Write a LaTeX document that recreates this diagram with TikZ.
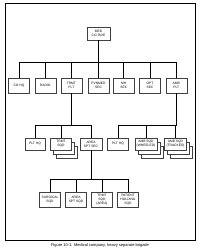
\documentclass[tikz,border=0pt]{standalone}
\usepackage{fontspec}
\setmainfont{Liberation Sans}
\usetikzlibrary{
  positioning,
  calc,
  shadows,
}
\tikzset{
  unitbox/.style={
    rectangle, draw=black!75, fill=white, line width=0.4pt,
    minimum width=21pt, minimum height=15pt, inner sep=0.5pt,
    align=center, font=\fontsize{3.3}{3.9}\selectfont
  },
  stackbox/.style={
    unitbox,
    double copy shadow={shadow xshift=3pt, shadow yshift=-4pt,
                        draw=black!75, fill=white, line width=0.4pt}
  },
  orgline/.style={line width=0.7pt, black},
  framebox/.style={line width=0.9pt, black},
}

\begin{document}
\begin{tikzpicture}[x=1pt, y=-1pt]

  \useasboundingbox (0,0) rectangle (201,251);

  % ── Frame ──
  \draw[framebox] (5,3) rectangle (195,240);

  % ── Company ──
  \node[unitbox, minimum width=23pt, minimum height=13pt] (medco) at (98.5,33.5) {MED\\CO, BDE};

  % ── Sections ──
  \node[unitbox] (cohq)  at (19,85.5)    {CO HQ};
  \node[unitbox] (radio) at (45.2,85.5)  {RADIO};
  \node[unitbox] (trmt)  at (71.4,85.5)  {TRMT\\PLT};
  \node[unitbox] (pvnt)  at (98.5,85.5)  {PVNMED\\SEC};
  \node[unitbox] (mhsec) at (123.8,85.5) {MH\\SEC};
  \node[unitbox] (optec) at (150,85.5)   {OPT\\SEC};
  \node[unitbox] (ambpl) at (176.2,85.5) {AMB\\PLT};

  % ── Treatment platoon ──
  \node[unitbox, minimum width=20pt, minimum height=12pt] (tplthq) at (35,144) {PLT HQ};
  \node[stackbox, minimum height=12pt] (tsqd) at (61,144) {TRMT\\SQD};
  \node[unitbox, minimum width=22pt, minimum height=12pt] (aspt) at (91,144) {AREA\\SPT SEC};

  % ── Ambulance platoon ──
  \node[unitbox, minimum height=12pt] (aplthq) at (118,144) {PLT HQ};
  \node[stackbox, minimum width=22pt, minimum height=12pt] (wsqd) at (146,144) {AMB SQD\\(WHEELED)};
  \node[stackbox, minimum width=22pt, minimum height=12pt] (tksqd) at (175.5,144) {AMB SQD\\(TRACKED)};

  % ── Area support section ──
  \node[unitbox] (surg) at (50,199.5)  {SURGICAL\\SQD};
  \node[unitbox] (asqd) at (76,199.5)  {AREA\\SPT SQD};
  \node[unitbox] (tarea) at (102,199.5) {TRMT\\SQD\\(AREA)};
  \node[unitbox] (phold) at (128,199.5) {PATIENT\\HOLDING\\SQD};

  % ── Bus levels ──
  \coordinate (busa) at (0,62);
  \coordinate (busb) at (0,125);
  \coordinate (busc) at (0,179);

  % ── Connectors ──
  \foreach \n in {cohq,radio,trmt,pvnt,mhsec,optec,ambpl}
    \draw[orgline] (medco.south) -- (medco.south |- busa) -| (\n.north);

  \foreach \n in {tplthq,tsqd,aspt}
    \draw[orgline] (trmt.south) -- (trmt.south |- busb) -| (\n.north);

  \foreach \n in {aplthq,wsqd,tksqd}
    \draw[orgline] (ambpl.south) -- (ambpl.south |- busb) -| (\n.north);

  \foreach \n in {surg,asqd,tarea,phold}
    \draw[orgline] (aspt.south) -- (aspt.south |- busc) -| (\n.north);

  % ── Caption ──
  \node[font=\fontsize{4}{4.5}\selectfont] (caption) at (100,245.5)
    {Figure 10-1. Medical company, heavy separate brigade};

\end{tikzpicture}
\end{document}
